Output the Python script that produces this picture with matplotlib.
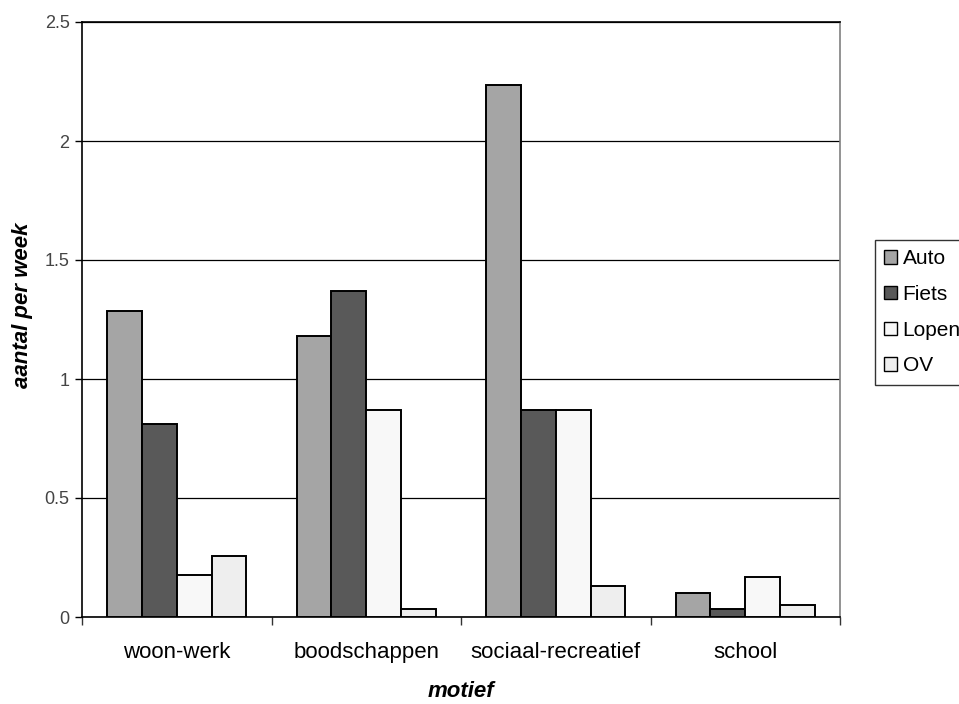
import matplotlib.pyplot as plt
import numpy as np

plt.rcParams['font.family'] = ['Liberation Sans', 'DejaVu Sans']

motieven = ['woon-werk', 'boodschappen', 'sociaal-recreatief', 'school']
auto = [1.285, 1.18, 2.235, 0.10]
fiets = [0.81, 1.37, 0.87, 0.035]
lopen = [0.175, 0.87, 0.87, 0.17]
ov = [0.255, 0.035, 0.13, 0.05]

series = [('Auto', auto, '#a5a5a5'),
          ('Fiets', fiets, '#595959'),
          ('Lopen', lopen, '#f8f8f8'),
          ('OV', ov, '#eeeeee')]

fig = plt.figure(figsize=(9.59, 7.04), dpi=100)
ax = fig.add_axes([82/959, 87/704, 758/959, 595/704])

x = np.arange(len(motieven))
w = 0.184
for i, (name, vals, col) in enumerate(series):
    ax.bar(x + (i - 1.5) * w, vals, w, color=col, edgecolor='black',
           linewidth=1.4, label=name, zorder=3)

ax.set_xlim(-0.5, len(motieven) - 0.5)
ax.set_ylim(0, 2.5)
ax.set_yticks([0, 0.5, 1, 1.5, 2, 2.5])
ax.set_yticklabels(['0', '0.5', '1', '1.5', '2', '2.5'], fontsize=13, color='#444444')
ax.set_xticks(x)
ax.set_xticklabels(motieven, fontsize=16)
ax.set_xticks(np.arange(len(motieven) + 1) - 0.5, minor=True)
ax.tick_params(axis='x', which='major', length=0, pad=18)
ax.tick_params(axis='x', which='minor', length=6, width=1, color='#333333')
ax.tick_params(axis='y', length=5, width=1, pad=4)
ax.yaxis.grid(True, color='black', linewidth=0.9, zorder=0)

for s in ['left', 'bottom', 'top']:
    ax.spines[s].set_color('black')
    ax.spines[s].set_linewidth(1.2)
ax.spines['right'].set_color('#808080')
ax.spines['right'].set_linewidth(1.2)

ax.set_xlabel('motief', fontsize=16, fontweight='bold', style='italic', labelpad=13)
ax.set_ylabel('aantal per week', fontsize=16, fontweight='bold', style='italic')
ax.yaxis.set_label_coords(-0.0646, 0.524)

leg = ax.legend(loc='upper left', bbox_to_anchor=(875/959, 1 - 240/704),
                bbox_transform=fig.transFigure, fontsize=15, frameon=True,
                fancybox=False, handlelength=0.62, handleheight=0.62,
                handletextpad=0.25, labelspacing=0.8, borderpad=0.45,
                borderaxespad=0)
leg.get_frame().set_edgecolor('black')
leg.get_frame().set_linewidth(1.0)
for p in leg.get_patches():
    p.set_linewidth(1.0)

fig.savefig('out.png', dpi=100)
